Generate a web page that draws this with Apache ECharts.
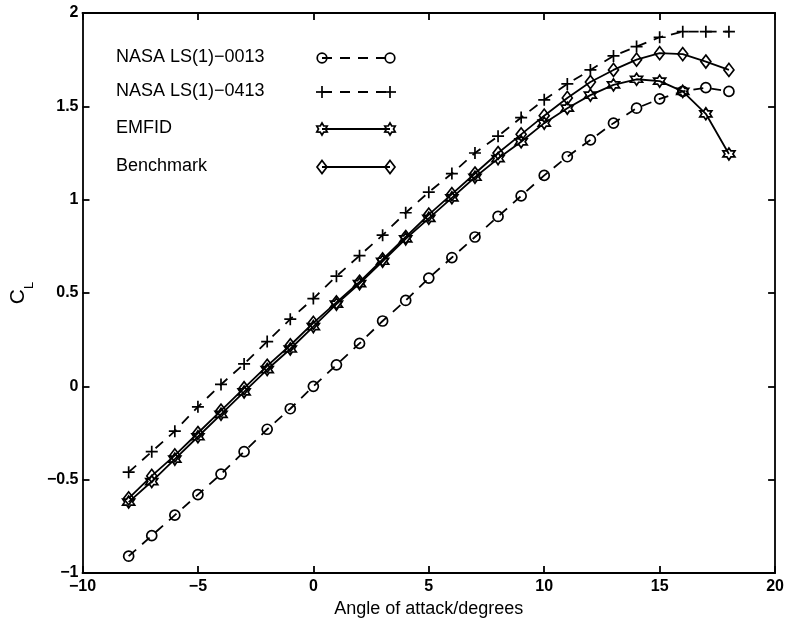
<!DOCTYPE html>
<html>
<head>
<meta charset="utf-8">
<script src="https://cdn.jsdelivr.net/npm/echarts@6/dist/echarts.min.js"></script>
<style>
  html, body { margin: 0; padding: 0; background: #fff; }
  #chart { width: 787px; height: 623px; }
</style>
</head>
<body>
<div id="chart"></div>
<script>
// angle of attack (degrees)
var angles = [-8, -7, -6, -5, -4, -3, -2, -1, 0, 1, 2, 3, 4, 5, 6, 7, 8, 9, 10, 11, 12, 13, 14, 15, 16, 17, 18];

// lift coefficient
var cl0013 = [-0.91, -0.80, -0.69, -0.58, -0.47, -0.35, -0.23, -0.12, 0.00, 0.115, 0.23, 0.35, 0.46, 0.58, 0.69, 0.80, 0.91, 1.02, 1.13, 1.23, 1.32, 1.41, 1.49, 1.54, 1.58, 1.60, 1.58];
var cl0413 = [-0.46, -0.35, -0.24, -0.11, 0.01, 0.12, 0.24, 0.36, 0.47, 0.59, 0.70, 0.81, 0.93, 1.04, 1.14, 1.25, 1.34, 1.44, 1.535, 1.62, 1.695, 1.77, 1.82, 1.87, 1.90, 1.90, 1.90];
var clEmfid = [-0.62, -0.51, -0.39, -0.27, -0.15, -0.03, 0.09, 0.20, 0.32, 0.44, 0.55, 0.67, 0.79, 0.90, 1.01, 1.12, 1.22, 1.31, 1.41, 1.49, 1.56, 1.615, 1.645, 1.635, 1.58, 1.46, 1.245];
var clBenchmark = [-0.60, -0.48, -0.37, -0.25, -0.13, -0.01, 0.11, 0.22, 0.34, 0.45, 0.56, 0.68, 0.80, 0.92, 1.03, 1.14, 1.25, 1.35, 1.45, 1.545, 1.63, 1.695, 1.75, 1.785, 1.78, 1.74, 1.695];

var seriesNames = ['NASA LS(1)\u22120013', 'NASA LS(1)\u22120413', 'EMFID', 'Benchmark'];

var FONT = '"Liberation Sans", Arial, Helvetica, sans-serif';

// marker shapes
var plusPath = 'path://M0,50L100,50M50,0L50,100';
var hexagramPath = 'path://M50,0L64.43,25L93.3,25L78.87,50L93.3,75L64.43,75L50,100L35.57,75L6.7,75L21.13,50L6.7,25L35.57,25Z';

function pairs(ys) {
  return angles.map(function (a, i) { return [a, ys[i]]; });
}

var markerStyle = { color: 'rgba(0,0,0,0)', borderColor: '#000', borderWidth: 1.7 };

function minus(v) {
  return String(v).replace('-', '\u2212');
}

// legend drawn MATLAB-style: text on the left, line sample with a marker at both ends
function legendMarker(kind, cx, cy) {
  var st = { fill: 'none', stroke: '#000', lineWidth: 1.7 };
  if (kind === 'circle') {
    return [{ type: 'circle', shape: { cx: cx, cy: cy, r: 4.8 }, style: st }];
  }
  if (kind === 'plus') {
    return [
      { type: 'line', shape: { x1: cx - 6, y1: cy, x2: cx + 6, y2: cy }, style: st },
      { type: 'line', shape: { x1: cx, y1: cy - 6, x2: cx, y2: cy + 6 }, style: st }
    ];
  }
  if (kind === 'hexagram') {
    var pts = [];
    for (var k = 0; k < 12; k++) {
      var ang = -Math.PI / 2 + k * Math.PI / 6;
      var r = k % 2 === 0 ? 6 : 3.5;
      pts.push([cx + r * Math.cos(ang), cy + r * Math.sin(ang)]);
    }
    return [{ type: 'polygon', shape: { points: pts }, style: st }];
  }
  return [{ type: 'polygon', shape: { points: [[cx, cy - 6.5], [cx + 5, cy], [cx, cy + 6.5], [cx - 5, cy]] }, style: st }];
}

var legendKinds = ['circle', 'plus', 'hexagram', 'diamond'];
var legendDashed = [true, true, false, false];
var legendRowsY = [58, 92, 129, 167];

var graphics = [];
seriesNames.forEach(function (name, i) {
  var y = legendRowsY[i];
  graphics.push({
    type: 'text', left: 116, top: y - 10,
    style: { text: name, font: '18px ' + FONT, fill: '#000' }
  });
  graphics.push({
    type: 'line', shape: { x1: 322, y1: y, x2: 390, y2: y },
    style: { stroke: '#000', lineWidth: 1.8, lineDash: legendDashed[i] ? [10, 8] : null }
  });
  graphics = graphics.concat(legendMarker(legendKinds[i], 322, y), legendMarker(legendKinds[i], 390, y));
});

var chart = echarts.init(document.getElementById('chart'));

var axisLineStyle = { color: '#000', width: 1.8 };

chart.setOption({
  animation: false,
  backgroundColor: '#fff',
  grid: { left: 78, right: 9, top: 13, bottom: 49, containLabel: false },
  xAxis: [
    {
      type: 'value', min: -10, max: 20, interval: 5, position: 'bottom',
      name: 'Angle of attack/degrees', nameLocation: 'middle', nameGap: 27,
      nameTextStyle: { fontFamily: FONT, fontSize: 18, color: '#000' },
      axisLine: { show: true, onZero: false, lineStyle: axisLineStyle },
      axisTick: { show: true, inside: true, length: 7, lineStyle: axisLineStyle },
      axisLabel: { margin: 6, fontFamily: FONT, fontSize: 16, fontWeight: 'bold', color: '#000', formatter: minus },
      splitLine: { show: false }
    },
    {
      type: 'value', min: -10, max: 20, interval: 5, position: 'top',
      axisLine: { show: true, onZero: false, lineStyle: axisLineStyle },
      axisTick: { show: true, inside: true, length: 7, lineStyle: axisLineStyle },
      axisLabel: { show: false },
      splitLine: { show: false }
    }
  ],
  yAxis: [
    {
      type: 'value', min: -1, max: 2, interval: 0.5, position: 'left',
      name: '{c|C}{l|L}', nameLocation: 'middle', nameGap: 42, nameRotate: 90,
      nameTextStyle: {
        color: '#000',
        rich: {
          c: { fontFamily: FONT, fontSize: 21, color: '#000' },
          l: { fontFamily: FONT, fontSize: 13, color: '#000', padding: [22, 0, 0, 0] }
        }
      },
      axisLine: { show: true, onZero: false, lineStyle: axisLineStyle },
      axisTick: { show: true, inside: true, length: 7, lineStyle: axisLineStyle },
      axisLabel: { margin: 4, fontFamily: FONT, fontSize: 16, fontWeight: 'bold', color: '#000', formatter: minus },
      splitLine: { show: false }
    },
    {
      type: 'value', min: -1, max: 2, interval: 0.5, position: 'right',
      axisLine: { show: true, onZero: false, lineStyle: axisLineStyle },
      axisTick: { show: true, inside: true, length: 7, lineStyle: axisLineStyle },
      axisLabel: { show: false },
      splitLine: { show: false }
    }
  ],
  series: [
    {
      name: seriesNames[0], type: 'line', data: pairs(cl0013),
      symbol: 'circle', symbolSize: 10, itemStyle: markerStyle,
      lineStyle: { color: '#000', width: 1.8, type: [10, 8] }
    },
    {
      name: seriesNames[1], type: 'line', data: pairs(cl0413),
      symbol: plusPath, symbolSize: 12, itemStyle: markerStyle,
      lineStyle: { color: '#000', width: 1.8, type: [10, 8] }
    },
    {
      name: seriesNames[2], type: 'line', data: pairs(clEmfid),
      symbol: hexagramPath, symbolSize: 12, itemStyle: markerStyle,
      lineStyle: { color: '#000', width: 1.8 }
    },
    {
      name: seriesNames[3], type: 'line', data: pairs(clBenchmark),
      symbol: 'diamond', symbolSize: [10, 13], itemStyle: markerStyle,
      lineStyle: { color: '#000', width: 1.8 }
    }
  ],
  graphic: graphics
});
</script>
</body>
</html>
